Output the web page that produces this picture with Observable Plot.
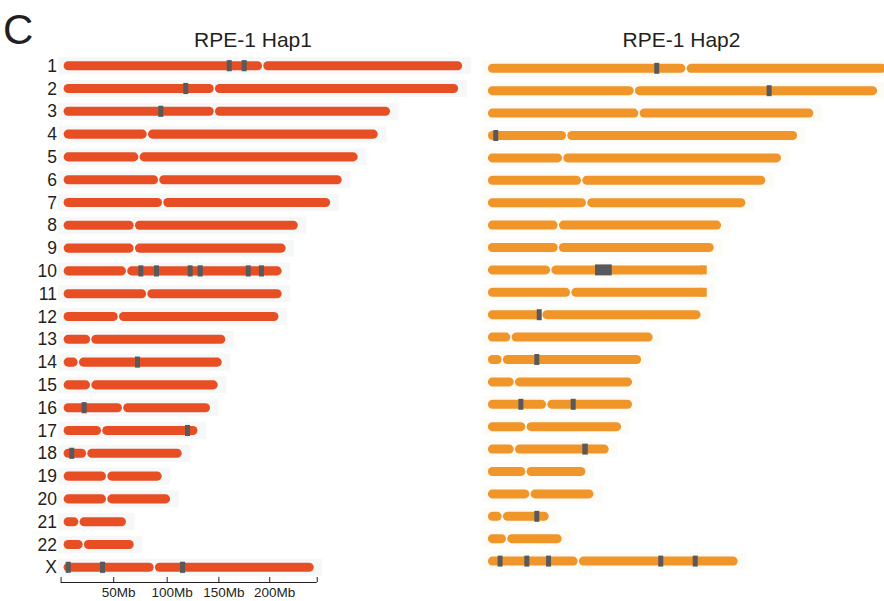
<!DOCTYPE html>
<html><head><meta charset="utf-8">
<script src="https://cdn.jsdelivr.net/npm/d3@7"></script>
<script src="https://cdn.jsdelivr.net/npm/@observablehq/plot@0.6"></script>
<style>
body{margin:0;background:#fff;font-family:"Liberation Sans",Arial,sans-serif;}
#fig{position:relative;width:884px;height:601px;overflow:hidden;background:#fff;}
#fig svg{position:absolute;top:0;}
.t{position:absolute;font-size:21px;line-height:21px;color:#231f20;white-space:nowrap;transform:translateX(-50%);}
#panel{position:absolute;left:3px;top:9.4px;font-size:42px;line-height:42px;color:#231f20;}
</style></head><body>
<div id="fig">
<div id="panel">C</div>
<div class="t" style="left:253px;top:29px">RPE-1 Hap1</div>
<div class="t" style="left:681.5px;top:29px">RPE-1 Hap2</div>
</div>
<script>
const chromosomes = ["1","2","3","4","5","6","7","8","9","10","11","12","13","14","15","16","17","18","19","20","21","22","X"];

// Haplotype 1 (Mb)
const hap1Length = [248.3, 245.8, 203.5, 195.9, 183.4, 173.5, 166.3, 146.2, 138.7, 136.2, 136.2, 134.2, 101.2, 99.0, 96.5, 91.7, 83.9, 74.1, 61.7, 66.9, 39.5, 44.3, 156.1];
const hap1Centromere = [124.0, 94.0, 94.0, 52.4, 47.2, 59.4, 61.9, 44.3, 44.3, 39.5, 52.0, 34.4, 17.2, 9.5, 17.2, 37.0, 24.0, 14.7, 27.1, 27.1, 9.9, 12.6, 56.7];
const hap1MarkerChrom = ["1","1","2","3","10","10","10","10","10","10","14","16","17","18","X","X","X"];
const hap1MarkerStart = [101.7, 111.0, 74.7, 59.2, 46.8, 56.5, 77.4, 83.6, 113.5, 121.7, 44.7, 11.6, 75.8, 3.9, 1.7, 23.0, 72.7];
const hap1MarkerEnd   = [104.8, 114.1, 77.8, 62.3, 49.9, 59.6, 80.5, 86.8, 116.6, 124.8, 47.8, 14.7, 78.9, 7.0, 4.8, 26.1, 75.8];

// Haplotype 2 (Mb)
const hap2Length = [248.3, 242.5, 202.9, 192.8, 182.8, 173.1, 160.7, 145.6, 141.0, 136.3, 136.3, 132.9, 103.1, 95.9, 90.3, 90.3, 83.5, 75.8, 61.3, 66.3, 38.5, 46.6, 155.9];
const hap2Centromere = [123.4, 91.3, 94.2, 49.3, 46.8, 58.6, 61.7, 44.1, 44.1, 39.4, 51.8, 33.8, 14.7, 9.3, 16.8, 36.9, 24.0, 16.8, 24.0, 26.5, 9.3, 12.0, 56.5];
const hap2MarkerChrom = ["1","2","4","10","12","14","16","16","18","21","X","X","X","X","X"];
const hap2MarkerStart = [103.7, 173.5, 3.7, 66.9, 30.7, 29.2, 19.3, 51.8, 59.0, 29.2, 6.4, 23.0, 36.5, 106.2, 127.6];
const hap2MarkerEnd   = [106.8, 176.6, 6.8, 77.3, 33.8, 32.3, 22.4, 54.9, 62.4, 32.3, 9.5, 26.1, 39.6, 109.3, 130.7];
const hap2SquareEnd = ["10","11"];

// Scale bar ticks (as drawn in the figure)
const axisTicks = [-1.5, 31.2, 64.4, 96.5, 128.1, 157.6];
const axisTickLabels = ["", "50Mb", "100Mb", "150Mb", "200Mb", ""];

const hap1Color = "#e84e24";
const hap2Color = "#f0952a";
const markerColor = "#58595b";
const pxPerMb = 1.61;

function rowsOf(lengths, cens) {
  return chromosomes.map((c, i) => ({chrom: c, len: lengths[i], cen: cens[i]}));
}
function armsOf(rows) {
  return rows.flatMap(d => [{chrom: d.chrom, x1: 0, x2: d.cen}, {chrom: d.chrom, x1: d.cen, x2: d.len}]);
}
function markersOf(ch, s, e) {
  return ch.map((c, i) => ({chrom: c, start: s[i], end: e[i]}));
}

const rows1 = rowsOf(hap1Length, hap1Centromere);
const rows2 = rowsOf(hap2Length, hap2Centromere);
const fig = document.getElementById("fig");

// Left panel
const W1 = 475, left1 = 63, dom1 = 250;
const step1 = 22.8, pad = 0.6;
const top1 = 65.7 - step1 * (1 + pad) / 2;
const bot1 = 601 - (top1 + step1 * (chromosomes.length + pad));
const p1 = Plot.plot({
  width: W1, height: 601,
  marginLeft: left1, marginRight: W1 - left1 - dom1 * pxPerMb,
  marginTop: top1, marginBottom: bot1,
  style: {background: "transparent", color: "#231f20", fontFamily: "Liberation Sans, Arial, sans-serif"},
  x: {domain: [0, dom1], label: null},
  y: {domain: chromosomes, padding: pad, round: false, label: null},
  marks: [
    Plot.barX(rows1, {y: "chrom", x1: -3, x2: d => d.len + 5, fill: "#f6f8f8", insetTop: -4, insetBottom: -4}),
    Plot.barX(armsOf(rows1), {y: "chrom", x1: "x1", x2: "x2", fill: hap1Color, rx: 4.6, insetLeft: 0.6, insetRight: 0.6}),
    Plot.barX(markersOf(hap1MarkerChrom, hap1MarkerStart, hap1MarkerEnd), {y: "chrom", x1: "start", x2: "end", fill: markerColor, insetTop: -1, insetBottom: -1}),
    Plot.axisY({tickSize: 0, tickPadding: 6.5, fontSize: 17.5, label: null}),
    Plot.ruleY(["X"], {y: d => d, x1: axisTicks[0], x2: axisTicks[axisTicks.length - 1], dy: 14.7, stroke: "#231f20", strokeWidth: 1}),
    Plot.tickX(axisTicks, {x: d => d, y: () => "X", dy: 12.2, insetTop: 2, insetBottom: 2, stroke: "#231f20", strokeWidth: 1}),
    Plot.axisX(axisTicks, {tickSize: 0, tickPadding: 1.5, dx: 5, fontSize: 13.5, label: null, tickFormat: d => axisTickLabels[axisTicks.indexOf(d)]})
  ]
});
p1.style.left = "0px";
fig.appendChild(p1);

// Right panel
const L2 = 470, W2 = 414, left2 = 17.3;
const dom2 = (W2 - left2) / pxPerMb;
const step2 = 22.4;
const top2 = 68.3 - step2 * (1 + pad) / 2;
const bot2 = 601 - (top2 + step2 * (chromosomes.length + pad));
const p2 = Plot.plot({
  width: W2, height: 601,
  marginLeft: left2, marginRight: 0,
  marginTop: top2, marginBottom: bot2,
  style: {background: "transparent", overflow: "hidden"},
  x: {domain: [0, dom2], axis: null},
  y: {domain: chromosomes, padding: pad, round: false, axis: null},
  marks: [
    Plot.barX(rows2, {y: "chrom", x1: -3, x2: d => d.len + 5, fill: "#fcfbf6", insetTop: -4, insetBottom: -4}),
    Plot.barX(armsOf(rows2), {y: "chrom", x1: "x1", x2: "x2", fill: hap2Color, rx: 4.5, insetLeft: 0.6, insetRight: 0.6}),
    Plot.barX(rows2.filter(d => hap2SquareEnd.includes(d.chrom)), {y: "chrom", x1: d => d.len - 4, x2: "len", fill: hap2Color}),
    Plot.barX(markersOf(hap2MarkerChrom, hap2MarkerStart, hap2MarkerEnd), {y: "chrom", x1: "start", x2: "end", fill: markerColor, insetTop: -1, insetBottom: -1})
  ]
});
p2.style.left = L2 + "px";
fig.appendChild(p2);
</script>
</body></html>
